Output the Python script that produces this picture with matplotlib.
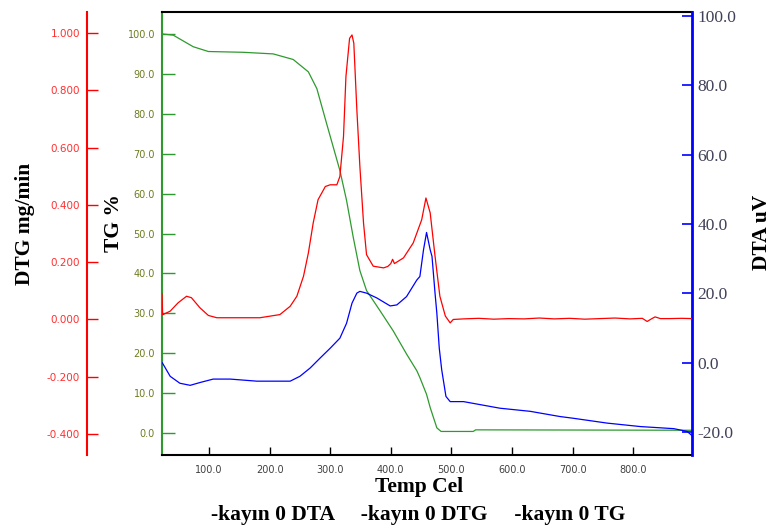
import numpy as np
import matplotlib
matplotlib.use("Agg")
import matplotlib.pyplot as plt
from matplotlib.ticker import FormatStrFormatter

# TG curve (mass %, left green axis)
tg_temp = [23, 41, 74, 99, 157, 206, 239, 264, 278, 294, 305, 316, 327, 338,
           349, 360, 382, 404, 426, 443, 448, 459, 465, 476, 483, 536, 540, 897]
tg_val = [100.0, 99.7, 96.8, 95.6, 95.4, 95.0, 93.6, 90.5, 86.3, 77.6, 71.7,
          65.8, 58.3, 49.1, 40.7, 35.7, 30.7, 25.6, 19.8, 15.6, 13.9, 9.7, 6.4,
          1.3, 0.4, 0.4, 0.8, 0.7]

# DTG curve (mg/min, outer red axis)
dtg_temp = [22.5, 23.5, 24, 36, 49, 63, 71, 85, 99, 113, 184, 217, 234, 245,
            256, 264, 272, 280, 292, 300, 311, 316, 322, 326, 332, 336, 339,
            344, 349, 355, 360, 371, 388, 395, 400, 403, 406, 421, 437, 451,
            458, 465, 473, 481, 490, 498, 503, 520, 545, 570, 595, 620, 645,
            670, 695, 720, 745, 770, 795, 815, 823, 830, 836, 845, 860, 880, 897]
dtg_val = [0.090, 0.017, 0.017, 0.029, 0.058, 0.081, 0.076, 0.041, 0.014,
           0.006, 0.006, 0.017, 0.046, 0.081, 0.151, 0.232, 0.337, 0.418,
           0.464, 0.470, 0.470, 0.499, 0.639, 0.848, 0.981, 0.993, 0.964,
           0.732, 0.534, 0.337, 0.226, 0.186, 0.180, 0.185, 0.195, 0.210,
           0.195, 0.215, 0.267, 0.348, 0.424, 0.372, 0.221, 0.081, 0.012,
           -0.012, 0.000, 0.002, 0.004, 0.001, 0.003, 0.002, 0.005, 0.002,
           0.004, 0.001, 0.003, 0.005, 0.002, 0.004, -0.007, 0.002, 0.009,
           0.003, 0.003, 0.004, 0.003]

# DTA curve (uV, right blue axis)
dta_temp = [23, 36, 52, 69, 85, 107, 135, 179, 234, 250, 267, 283, 300, 316,
            327, 336, 344, 349, 360, 377, 399, 410, 426, 443, 448, 454, 459,
            465, 468, 473, 476, 480, 484, 491, 498, 520, 580, 630, 679, 701,
            757, 812, 867, 889, 897]
dta_val = [0.0, -3.9, -5.9, -6.5, -5.7, -4.7, -4.7, -5.3, -5.3, -3.9, -1.5,
           1.3, 4.2, 7.1, 11.4, 17.2, 20.1, 20.6, 20.1, 18.7, 16.4, 16.7,
           19.1, 23.9, 24.9, 32.6, 37.6, 32.6, 30.7, 20.1, 14.3, 4.2, -2.0,
           -9.7, -11.2, -11.2, -13.1, -14.0, -15.5, -16.0, -17.4, -18.4,
           -19.0, -19.8, -21.0]

x_ticks = [100, 200, 300, 400, 500, 600, 700, 800]
tg_ticks = np.arange(0, 101, 10)
dtg_ticks = [-0.4, -0.2, 0.0, 0.2, 0.4, 0.6, 0.8, 1.0]
dta_ticks = [-20, 0, 20, 40, 60, 80, 100]

RED = '#ff0000'
GREEN = '#2e9a2e'
BLUE = '#0000ff'

fig = plt.figure(figsize=(7.75, 5.29), dpi=100)
ax = fig.add_axes([162 / 775, 1 - 455 / 529, 530 / 775, 443 / 529])
ax_dta = ax.twinx()
ax_dtg = ax.twinx()

ax.set_xlim(22.5, 897)
ax.set_ylim(-5.5, 105.5)
ax_dtg.set_ylim(-0.473, 1.073)
ax_dta.set_ylim(-26.6, 101.2)

ax_dta.plot(dta_temp, dta_val, color=BLUE, lw=0.9)
ax_dtg.plot(dtg_temp, dtg_val, color=RED, lw=0.9)
ax.plot(tg_temp, tg_val, color=GREEN, lw=0.9, zorder=5)

# TG axis (host)
for s in ['top', 'bottom']:
    ax.spines[s].set_color('black')
    ax.spines[s].set_linewidth(1.5)
ax.spines['left'].set_color(GREEN)
ax.spines['left'].set_linewidth(1.5)
ax.spines['right'].set_visible(False)
ax.set_xticks(x_ticks)
ax.xaxis.set_major_formatter(FormatStrFormatter('%.1f'))
ax.tick_params(axis='x', direction='in', length=6, width=1, color='black',
               labelsize=7, labelcolor='#404040', pad=7)
ax.set_yticks(tg_ticks)
ax.yaxis.set_major_formatter(FormatStrFormatter('%.1f'))
ax.tick_params(axis='y', direction='in', length=9, width=1, color=GREEN,
               labelsize=7, labelcolor='#6b7d1f', pad=5)

# DTA axis (right)
for s in ['top', 'bottom', 'left']:
    ax_dta.spines[s].set_visible(False)
ax_dta.spines['right'].set_color(BLUE)
ax_dta.spines['right'].set_linewidth(2)
ax_dta.set_yticks(dta_ticks)
ax_dta.yaxis.set_major_formatter(FormatStrFormatter('%.1f'))
ax_dta.tick_params(axis='y', direction='in', length=7, width=1.2, color=BLUE,
                   labelsize=12.5, labelcolor='#404058', pad=4)
for lab in ax_dta.get_yticklabels():
    lab.set_family('Liberation Serif')

# DTG axis (outer left)
for s in ['top', 'bottom', 'right']:
    ax_dtg.spines[s].set_visible(False)
ax_dtg.spines['left'].set_visible(True)
ax_dtg.spines['left'].set_position(('axes', (87 - 162) / 530))
ax_dtg.spines['left'].set_color(RED)
ax_dtg.spines['left'].set_linewidth(1.5)
ax_dtg.yaxis.set_ticks_position('left')
ax_dtg.yaxis.set_label_position('left')
ax_dtg.set_yticks(dtg_ticks)
ax_dtg.yaxis.set_major_formatter(FormatStrFormatter('%.3f'))
ax_dtg.tick_params(axis='y', direction='in', length=8, width=1, color=RED,
                   labelsize=7.5, labelcolor='#ff3030', pad=5)

label_font = dict(family='Liberation Serif', weight='bold', size=15.5)
fig.text(25 / 775, 1 - 224 / 529, 'DTG mg/min', rotation=90,
         ha='center', va='center', **label_font)
fig.text(114 / 775, 1 - 223 / 529, 'TG %', rotation=90,
         ha='center', va='center', **label_font)
fig.text(762 / 775, 1 - 232 / 529, 'DTA uV', rotation=90,
         ha='center', va='center', **label_font)
fig.text(419 / 775, 1 - 487 / 529, 'Temp Cel',
         ha='center', va='center', **label_font)
fig.text(418 / 775, 1 - 515 / 529,
         '-kayın 0 DTA     -kayın 0 DTG     -kayın 0 TG',
         ha='center', va='center', **label_font)

fig.savefig('out.png', dpi=100)
